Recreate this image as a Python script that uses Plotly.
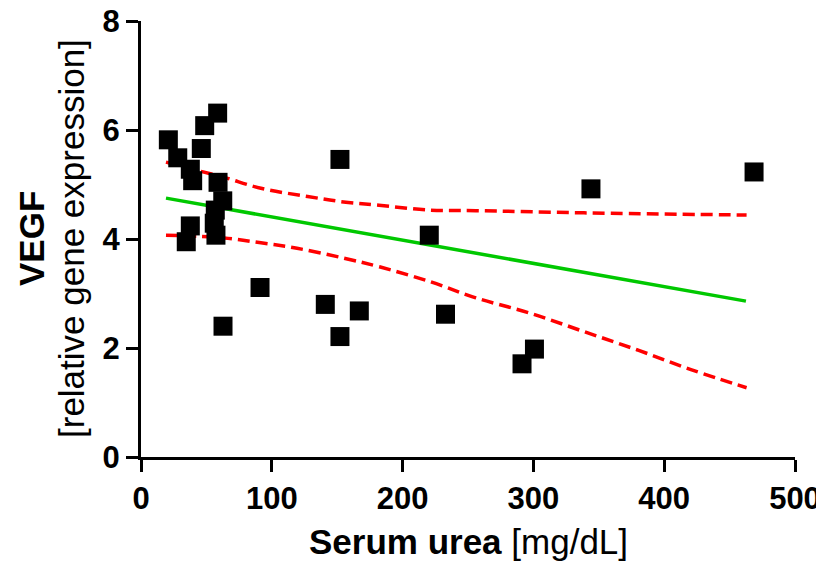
import plotly.graph_objects as go

# scatter points: serum urea [mg/dL] vs VEGF relative expression
urea = [20.9, 28.1, 58.6, 48.7, 46.1, 37.7, 39.5, 58.9, 62.5, 56.8, 56.0, 57.3, 37.7,
        34.6, 62.7, 91.0, 152.1, 220.4, 140.9, 166.9, 152.1, 232.8, 300.8, 291.3,
        344.0, 468.7]
vegf = [5.82, 5.49, 6.31, 6.08, 5.66, 5.28, 5.07, 5.04, 4.70, 4.53, 4.29, 4.07, 4.24,
        3.95, 2.40, 3.11, 5.46, 4.07, 2.80, 2.68, 2.21, 2.62, 1.98, 1.71,
        4.92, 5.23]

# linear fit and 95% confidence band
fit_x = [19.1, 220.7, 462.5]
fit_y = [4.75, 3.89, 2.86]

upper_x = [19.1, 45.9, 63.7, 91.7, 127.4, 154.9, 182.0, 220.7, 256.0, 338.7, 463.0]
upper_y = [5.41, 5.24, 5.13, 4.93, 4.78, 4.68, 4.62, 4.53, 4.52, 4.48, 4.44]

lower_x = [19.1, 63.5, 91.7, 119.3, 154.9, 182.3, 220.7, 256.0, 297.4, 338.7, 380.0, 421.0, 463.0]
lower_y = [4.07, 4.02, 3.93, 3.83, 3.65, 3.49, 3.22, 2.92, 2.64, 2.30, 1.96, 1.60, 1.27]

x_ticks = [0, 100, 200, 300, 400, 500]
y_ticks = [0, 2, 4, 6, 8]

FONT = "Liberation Sans, Arial, sans-serif"

fig = go.Figure()

band_style = dict(color="#ff0000", width=3.5, dash="12px,6px")
fig.add_trace(go.Scatter(x=upper_x, y=upper_y, mode="lines", line=dict(shape="spline", **band_style)))
fig.add_trace(go.Scatter(x=lower_x, y=lower_y, mode="lines", line=dict(shape="spline", **band_style)))
fig.add_trace(go.Scatter(x=fit_x, y=fit_y, mode="lines", line=dict(color="#00c800", width=3.5)))

fig.add_trace(go.Scatter(
    x=urea, y=vegf, mode="markers",
    marker=dict(symbol="square", size=19, color="black", line=dict(width=0)),
))

axis_common = dict(
    showline=True, linewidth=3, linecolor="black",
    ticks="outside", ticklen=12, tickwidth=3, tickcolor="black",
    showgrid=False, zeroline=False, automargin=False,
    ticklabeloverflow="allow",
    tickfont=dict(family=FONT, size=31, color="black", weight="bold"),
)

# the page body adds an 8px offset, so margins are trimmed to match
fig.update_layout(
    width=824, height=566,
    margin=dict(l=133, r=37, t=13, b=117),
    plot_bgcolor="white", paper_bgcolor="white",
    showlegend=False,
    xaxis=dict(range=[0, 500], tickvals=x_ticks, **axis_common),
    yaxis=dict(range=[0, 8], tickvals=y_ticks, **axis_common),
    annotations=[
        dict(text="<b>VEGF</b>", textangle=-90, xref="paper", yref="paper",
             x=0, y=0.5, xshift=-110, xanchor="center", yanchor="middle",
             showarrow=False, font=dict(family=FONT, size=35, color="black")),
        dict(text="[relative gene expression]", textangle=-90, xref="paper", yref="paper",
             x=0, y=0.5, xshift=-70, xanchor="center", yanchor="middle",
             showarrow=False, font=dict(family=FONT, size=35, color="black")),
        dict(text="<b>Serum urea</b> [mg/dL]", xref="paper", yref="paper",
             x=0.5, y=0, yshift=-84, xanchor="center", yanchor="middle",
             showarrow=False, font=dict(family=FONT, size=35, color="black")),
    ],
)

fig.write_html("out.html")
